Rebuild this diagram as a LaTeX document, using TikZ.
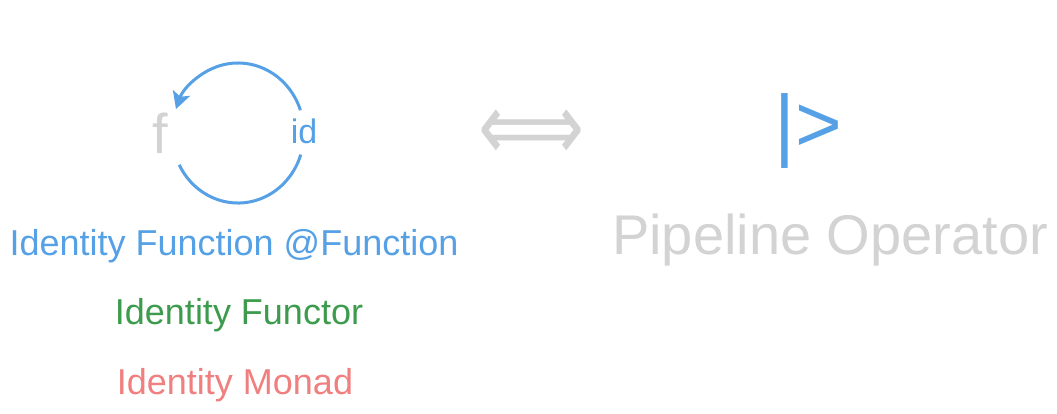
\documentclass[tikz,border=0pt]{standalone}
\usepackage{fontspec}
\setmainfont{Liberation Sans}
\newfontfamily\symfont{DejaVu Sans}
\usetikzlibrary{arrows.meta, positioning}
\definecolor{Bcolor}{HTML}{56A0E5}
\definecolor{Lcolor}{HTML}{D3D3D3}
\definecolor{Fcolor}{HTML}{3D9B4D}
\definecolor{Mcolor}{HTML}{F08080}
\tikzstyle{label} = [inner sep=0pt, anchor=base, font=\fontsize{36}{40}\selectfont]
\tikzstyle{big} = [inner sep=0pt, anchor=base, font=\fontsize{56}{60}\selectfont]
\tikzstyle{loop} = [line width=3pt, color=Bcolor, x radius=66pt, y radius=70pt]
\tikzstyle{arrow} = [-{Stealth[length=17pt, width=18pt, inset=4pt]}]

\begin{document}
\begin{tikzpicture}[x=1pt, y=1pt]
\useasboundingbox (0,0) rectangle (1057,-413);

\coordinate (loop) at (238,-133);
\node (f) [big, color=Lcolor] at (160,-153) {f};
\node (id) [label, font=\fontsize{34}{38}\selectfont, color=Bcolor] at (304,-143) {id};

\draw [loop, arrow] ([shift={(19:66pt and 70pt)}]loop) arc [start angle=19, end angle=160];
\draw [loop] ([shift={(207:66pt and 70pt)}]loop) arc [start angle=207, end angle=342];

\node (idfun) [label, color=Bcolor] at (234,-255) {Identity Function @Function};
\node (idfunctor) [label, color=Fcolor, below=69pt of idfun.base, anchor=base, xshift=5pt] {Identity Functor};
\node (idmonad) [label, color=Mcolor, below=70pt of idfunctor.base, anchor=base, xshift=-4pt] {Identity Monad};

\node (iff) [inner sep=0pt, color=Lcolor, font=\symfont\fontsize{74}{80}\selectfont, transform shape, yscale=1.3] at (532,-135) {⟺};

\node (pipe) [inner sep=0pt, anchor=base, color=Bcolor, font=\fontsize{80}{90}\selectfont] at (808,-151) {|>};
\node (pipeline) [big, color=Lcolor, below=103pt of pipe.base, anchor=base, xshift=22pt] {Pipeline Operator};

\end{tikzpicture}
\end{document}
